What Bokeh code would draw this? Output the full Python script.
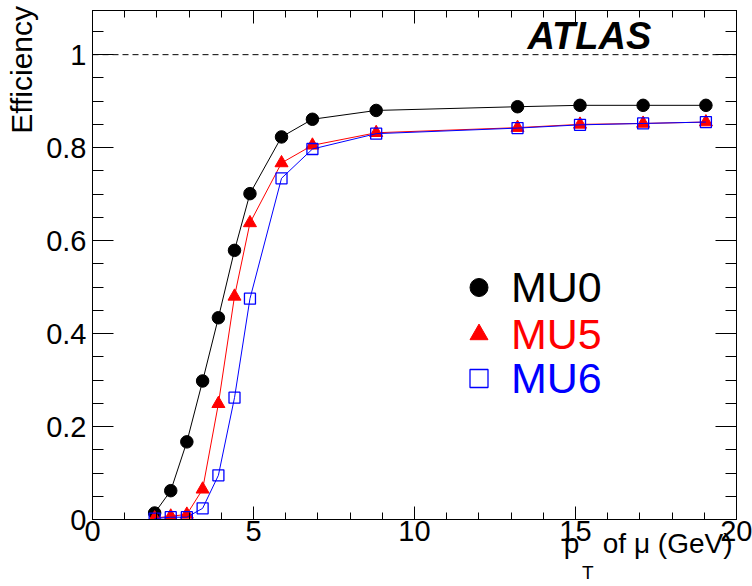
from bokeh.plotting import figure
from bokeh.models import (LinearAxis, FixedTicker, PrintfTickFormatter, Range1d,
                          Span, Label, Legend, LegendItem, Title)
from bokeh.embed import file_html
from bokeh.resources import INLINE

# ---- data ----
pt = [1.93, 2.43, 2.93, 3.42, 3.91, 4.41, 4.89, 5.87, 6.83, 8.81, 13.20, 15.14, 17.10, 19.05]
eff_mu0 = [0.014, 0.062, 0.167, 0.298, 0.434, 0.579, 0.701, 0.823, 0.861, 0.880, 0.888, 0.891, 0.891, 0.891]
eff_mu5 = [0.003, 0.007, 0.011, 0.065, 0.249, 0.480, 0.638, 0.767, 0.805, 0.832, 0.843, 0.850, 0.852, 0.855]
eff_mu6 = [0.002, 0.005, 0.005, 0.024, 0.095, 0.262, 0.475, 0.734, 0.797, 0.830, 0.842, 0.849, 0.852, 0.855]
series_names = ["MU0", "MU5", "MU6"]
x_major = [0, 5, 10, 15, 20]
x_minor = list(range(0, 21))
y_major = [0, 0.2, 0.4, 0.6, 0.8, 1.0]
y_minor = [round(0.05 * i, 2) for i in range(0, 22)]

FONT = "Liberation Sans"

p = figure(frame_width=644, frame_height=509,
           min_border_left=92, min_border_right=16, min_border_top=10, min_border_bottom=67,
           x_range=Range1d(0, 20), y_range=Range1d(0, 1.095),
           output_backend="svg", toolbar_location=None)
p.background_fill_color = "white"
p.border_fill_color = "white"
p.outline_line_color = "black"
p.outline_line_width = 1
p.xgrid.visible = False
p.ygrid.visible = False


def style_axis(ax, major, minor, tin, tmin, labels=True, standoff=0):
    ax.ticker = FixedTicker(ticks=major, minor_ticks=minor)
    ax.formatter = PrintfTickFormatter(format="%g")
    ax.axis_line_color = "black"
    ax.axis_line_width = 1
    ax.major_tick_in = tin
    ax.major_tick_out = 0
    ax.minor_tick_in = tmin
    ax.minor_tick_out = 0
    ax.major_tick_line_color = "black"
    ax.minor_tick_line_color = "black"
    ax.major_label_standoff = standoff
    if labels:
        ax.major_label_text_font = FONT
        ax.major_label_text_font_size = "29px"
        ax.major_label_text_color = "black"
    else:
        ax.major_label_text_font_size = "0px"
        ax.major_label_text_alpha = 0


style_axis(p.xaxis[0], x_major, x_minor, 13, 7, True, 1)
style_axis(p.yaxis[0], y_major, y_minor, 21, 11, True, 6)

top_ax = LinearAxis()
style_axis(top_ax, x_major, x_minor, 13, 7, False, 0)
p.add_layout(top_ax, "above")
right_ax = LinearAxis()
style_axis(right_ax, y_major, y_minor, 21, 11, False, 0)
p.add_layout(right_ax, "right")

p.add_layout(Span(location=1.0, dimension="width", line_color="black",
                  line_width=1, line_dash="6 4"))

# ---- series ----
p.line(pt, eff_mu0, line_color="black", line_width=1)
r0 = p.scatter(pt, eff_mu0, marker="circle", size=12.5, fill_color="black", line_color="black")
p.line(pt, eff_mu5, line_color="#ff0000", line_width=1)
r5 = p.scatter(pt, eff_mu5, marker="triangle", size=13, fill_color="#ff0000", line_color="#ff0000")
p.line(pt, eff_mu6, line_color="#0000ff", line_width=1)
r6 = p.scatter(pt, eff_mu6, marker="square", size=11, fill_color=None, line_color="#0000ff",
               line_width=1.3)

# ---- legends (one per entry, to colour each label) ----
leg_specs = [(r0, "black", 207), (r5, "#ff0000", 160), (r6, "#0000ff", 116)]
for (r, col, ybot), name in zip(leg_specs, series_names):
    lg = Legend(items=[LegendItem(label=name, renderers=[r])], location=(364, ybot),
                padding=0, margin=0, spacing=0, border_line_color=None,
                background_fill_alpha=0, glyph_width=45, glyph_height=50,
                label_height=50, label_standoff=10,
                label_text_font=FONT, label_text_font_size="43px", label_text_color=col)
    p.add_layout(lg)

# ---- texts ----
p.add_layout(Label(x=435, y=483.5, x_units="screen", y_units="screen", text="ATLAS",
                   text_font=FONT, text_font_size="38px", text_font_style="bold italic",
                   text_color="black", text_align="left", text_baseline="middle"))

ytitle = Title(text="Efficiency", align="right", vertical_align="top", standoff=7, offset=-4.5,
               text_font=FONT, text_font_size="30px", text_font_style="normal",
               text_color="black")
p.add_layout(ytitle, "left")

xtitle = Title(text="p\u00a0\u00a0\u00a0of μ (GeV)", align="right", vertical_align="top",
               standoff=-32, offset=4, text_font=FONT, text_font_size="28px",
               text_font_style="normal", text_color="black")
p.add_layout(xtitle, "below")
xsub = Title(text="T", align="right", vertical_align="top", standoff=34, offset=143,
             text_font=FONT, text_font_size="19px", text_font_style="normal",
             text_color="black")
p.add_layout(xsub, "below")

open("out.html", "w").write(file_html(p, INLINE))
